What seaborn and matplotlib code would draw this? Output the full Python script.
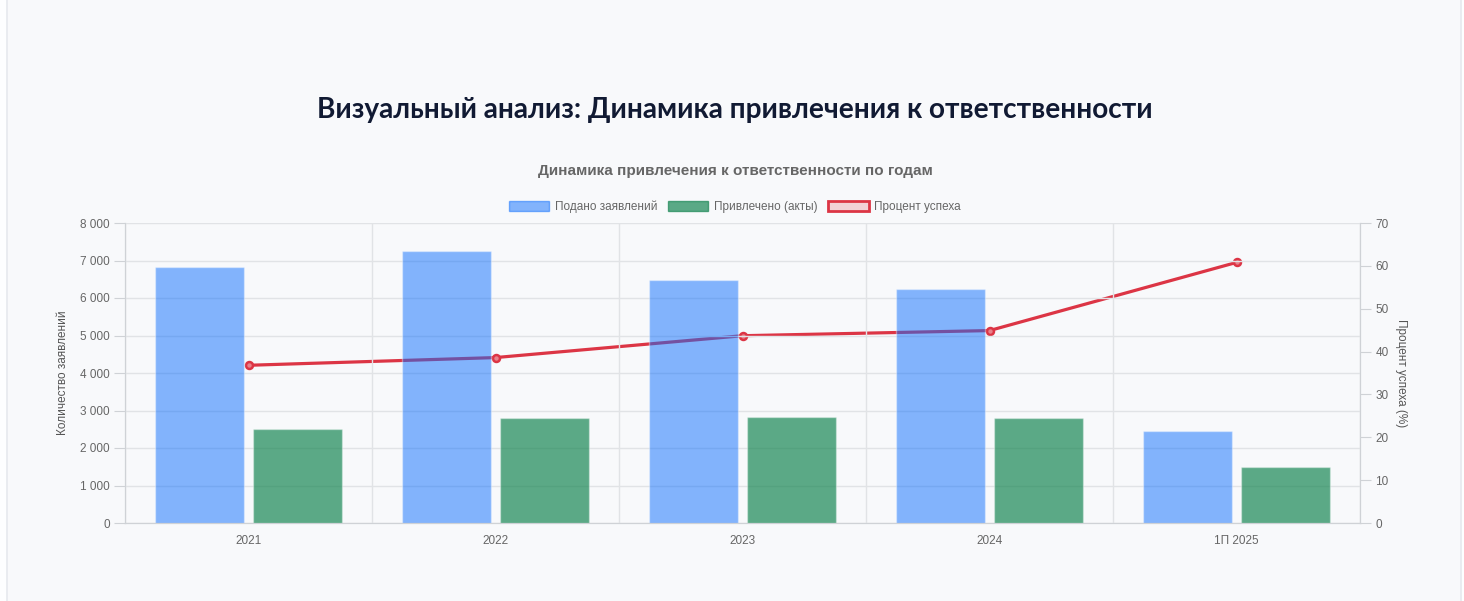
import numpy as np
import pandas as pd
import matplotlib
matplotlib.use("Agg")
import matplotlib.pyplot as plt
from matplotlib.patches import Patch, Rectangle
from matplotlib.ticker import FuncFormatter
import seaborn as sns

# Data
years = ["2021", "2022", "2023", "2024", "1П 2025"]
submitted = [6820, 7250, 6480, 6240, 2450]
prosecuted = [2510, 2800, 2830, 2800, 1490]
success_rate = [36.8, 38.6, 43.7, 44.9, 60.8]

series_names = ["Подано заявлений", "Привлечено (акты)", "Процент успеха"]

df = pd.DataFrame({
    "year": years * 2,
    "value": submitted + prosecuted,
    "series": [series_names[0]] * len(years) + [series_names[1]] * len(years),
})

sns.set_style("white")
plt.rcParams["font.family"] = ["Liberation Sans", "DejaVu Sans"]

blue = (13 / 255, 110 / 255, 253 / 255)
green = (25 / 255, 135 / 255, 84 / 255)
red = "#dc3545"
grey_txt = "#666666"
grid_col = "#e1e3e6"
axis_col = "#cfd2d6"

fig = plt.figure(figsize=(14.64, 6.01), dpi=100)
fig.patch.set_facecolor("#fdfeff")
# card background
fig.patches.append(Rectangle((7 / 1464, -0.01), (1461 - 7) / 1464, 1.02,
                             transform=fig.transFigure, facecolor="#f8f9fb",
                             edgecolor="#e6e9ee", linewidth=1.2, zorder=-10))

ax = fig.add_axes([125 / 1464, 78 / 601, (1360 - 125) / 1464, 300 / 601])
ax2 = ax.twinx()

sns.barplot(data=df, x="year", y="value", hue="series",
            palette={series_names[0]: blue, series_names[1]: green},
            width=0.8, gap=0.1, legend=False, ax=ax)

alphas = [0.5, 0.7]
base = [blue, green]
for cont, a, c in zip(ax.containers, alphas, base):
    for bar in cont:
        bar.set_facecolor((*c, a))
        bar.set_edgecolor((1, 1, 1, 0.35))
        bar.set_linewidth(1)

sns.lineplot(x=np.arange(len(years)), y=success_rate, ax=ax2, color=red,
             linewidth=2.3, marker="o", markersize=5,
             markerfacecolor="#e8818b", markeredgecolor=red, markeredgewidth=1.8)

# bars above the line
ax.set_zorder(ax2.get_zorder() + 1)
ax.patch.set_visible(False)
ax2.patch.set_visible(False)

ax.set_xlim(-0.5, len(years) - 0.5)
ax.set_ylim(0, 8000)
ax.set_yticks(np.arange(0, 8001, 1000))
ax.yaxis.set_major_formatter(FuncFormatter(lambda v, p: f"{int(v):,}".replace(",", " ")))
ax2.set_ylim(0, 70)
ax2.set_yticks(np.arange(0, 71, 10))

ax.set_xticks(np.arange(-0.5, len(years), 1), minor=True)
ax.grid(axis="y", color=grid_col, linewidth=1)
ax.grid(axis="x", which="minor", color=grid_col, linewidth=1)
ax.tick_params(axis="x", which="major", length=0, pad=9, labelsize=8.5, labelcolor=grey_txt)
ax.tick_params(axis="x", which="minor", length=8, color=axis_col)
ax.tick_params(axis="y", length=8, color=axis_col, labelsize=8.5, labelcolor=grey_txt, pad=3)
ax2.tick_params(axis="y", length=8, color=axis_col, labelsize=8.5, labelcolor=grey_txt, pad=3)

for a in (ax, ax2):
    for s in a.spines.values():
        s.set_color(axis_col)
    a.spines["top"].set_visible(False)

ax.set_xlabel("")
ax.set_ylabel("Количество заявлений", fontsize=8.5, color="#555555", labelpad=8)
ax2.set_ylabel("Процент успеха (%)", fontsize=8.5, color="#555555", rotation=270, labelpad=13)

# titles
fig.text(735 / 1464, 1 - 110 / 601, "Визуальный анализ: Динамика привлечения к ответственности",
         ha="center", va="center", fontsize=20.2, fontweight="bold", color="#111a33",
         family=["Lato", "DejaVu Sans"])
fig.text(735 / 1464, 1 - 171 / 601, "Динамика привлечения к ответственности по годам",
         ha="center", va="center", fontsize=11, fontweight="bold", color=grey_txt)

handles = [
    Patch(facecolor=(*blue, 0.5), edgecolor=(*blue, 0.5), label=series_names[0]),
    Patch(facecolor=(*green, 0.7), edgecolor=(*green, 0.7), label=series_names[1]),
    Patch(facecolor=(220 / 255, 53 / 255, 69 / 255, 0.2), edgecolor=red, linewidth=2,
          label=series_names[2]),
]
fig.legend(handles=handles, loc="center", bbox_to_anchor=(735 / 1464, 1 - 207 / 601),
           ncol=3, frameon=False, fontsize=8.5, labelcolor=grey_txt,
           handlelength=3.4, handleheight=0.9, columnspacing=0.9, handletextpad=0.5)

fig.savefig("out.png", dpi=100, facecolor=fig.get_facecolor())
